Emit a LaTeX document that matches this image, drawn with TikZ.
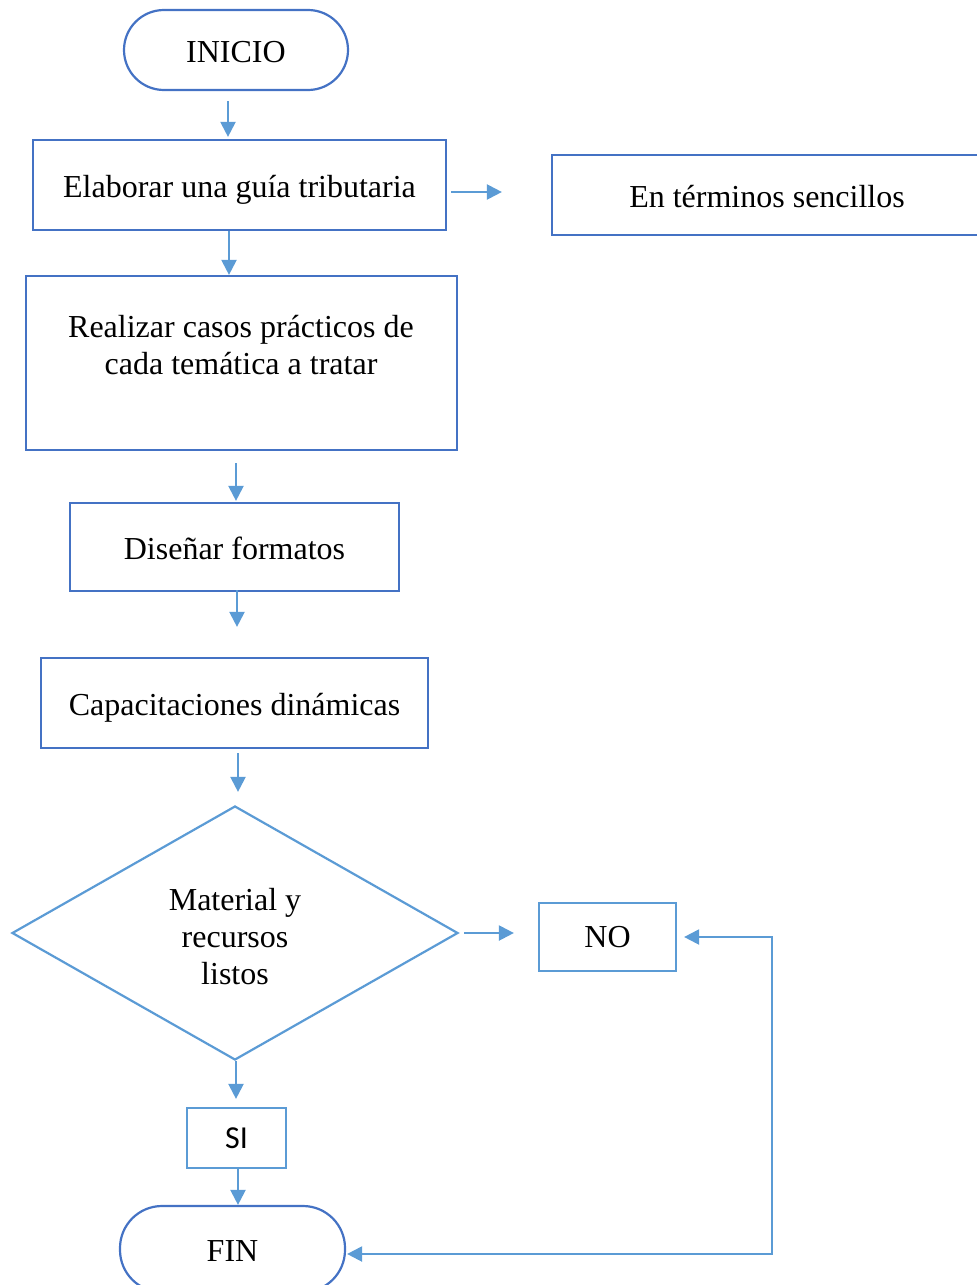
\documentclass[tikz,border=0pt]{standalone}
\usepackage{fontspec}
\setmainfont{Liberation Serif}
\newfontfamily\calibrifont{Carlito}
\usetikzlibrary{calc}
\usetikzlibrary{arrows.meta, shapes.geometric}
\definecolor{boxblue}{HTML}{4472C4}
\definecolor{lineblue}{HTML}{5B9BD5}

\begin{document}
\begin{tikzpicture}[
  x=0.5pt, y=0.5pt,
  line cap=butt,
  line join=miter,
  >={Triangle[length=7.5pt,width=7.5pt]},
  every node/.style={font=\fontsize{16}{18.5}\selectfont, inner sep=0pt},
  procbox/.style={draw=boxblue,line width=1.1pt,rectangle,text height=13pt,text depth=1pt},
  termbox/.style={procbox,rounded corners=20pt},
  optbox/.style={draw=lineblue,line width=1.1pt,rectangle},
  arr/.style={draw=lineblue,line width=1.1pt,->}
]
\useasboundingbox (0,0) rectangle (976,-1285);

% Terminals
\node[termbox,minimum width=112pt,minimum height=40pt] (inicio) at (236,-50) {INICIO};
\node[termbox,minimum width=112.5pt,minimum height=43pt,rounded corners=21pt] (fin) at (232.5,-1249) {FIN};

% Process boxes
\node[procbox,minimum width=206.5pt,minimum height=45pt] (guia) at (239.5,-185) {Elaborar una guía tributaria};
\node[procbox,minimum width=215pt,minimum height=40pt] (sencillos) at (767,-195) {En términos sencillos};
\node[procbox,minimum width=215.5pt,minimum height=87pt] (casos) at (241.5,-363) {};
\node[align=center] (casostxt) at (241,-345) {Realizar casos prácticos de\\cada temática a tratar};
\node[procbox,minimum width=164.5pt,minimum height=44pt] (formatos) at (234.5,-547) {Diseñar formatos};
\node[procbox,minimum width=193.5pt,minimum height=45pt] (capac) at (234.5,-703) {Capacitaciones dinámicas};

% Decision and answers
\node[diamond,draw=lineblue,line width=1.1pt,minimum width=223pt,minimum height=127pt] (decision) at (235,-933) {};
\node[align=center] (decisiontxt) at (235,-937) {Material y\\recursos\\listos};
\node[optbox,minimum width=68.5pt,minimum height=34pt] (no) at (607.5,-937) {NO};
\node[optbox,minimum width=49.5pt,minimum height=30pt,font=\calibrifont\fontsize{16}{18.5}\selectfont] (si) at (236.5,-1138) {SI};
\coordinate (bend) at (772,-937);

% Connectors
\draw[arr,shorten <=5pt,shorten >=1pt] (inicio.south -| 228,0) -- (guia.north -| 228,0);
\draw[arr] (guia.south -| 229,0) -- (casos.north -| 229,0);
\draw[arr,shorten <=2pt,shorten >=24.5pt] (guia.east |- 0,-192) -- (sencillos.west |- 0,-192);
\draw[arr,shorten <=6pt,shorten >=0.5pt] (casos.south -| 236,0) -- (formatos.north -| 236,0);
\draw[arr,shorten <=-1pt,shorten >=15pt] (formatos.south -| 237,0) -- (capac.north -| 237,0);
\draw[arr,shorten <=2pt,shorten >=6.5pt] (capac.south -| 238,0) -- (decision.north -| 238,0);
\draw[arr,shorten <=2.5pt,shorten >=12pt] (decision.east) -- (no.west |- decision.east);
\draw[arr,shorten >=4pt] (decision.south -| 236,0) -- (si.north -| 236,0);
\draw[arr] (si.south -| 238,0) -- (fin.north -| 238,0);
\draw[arr,<->,shorten <=3.5pt,shorten >=0.5pt] (no.east) -- (bend) |- (fin.east |- 0,-1254);

\end{tikzpicture}
\end{document}
